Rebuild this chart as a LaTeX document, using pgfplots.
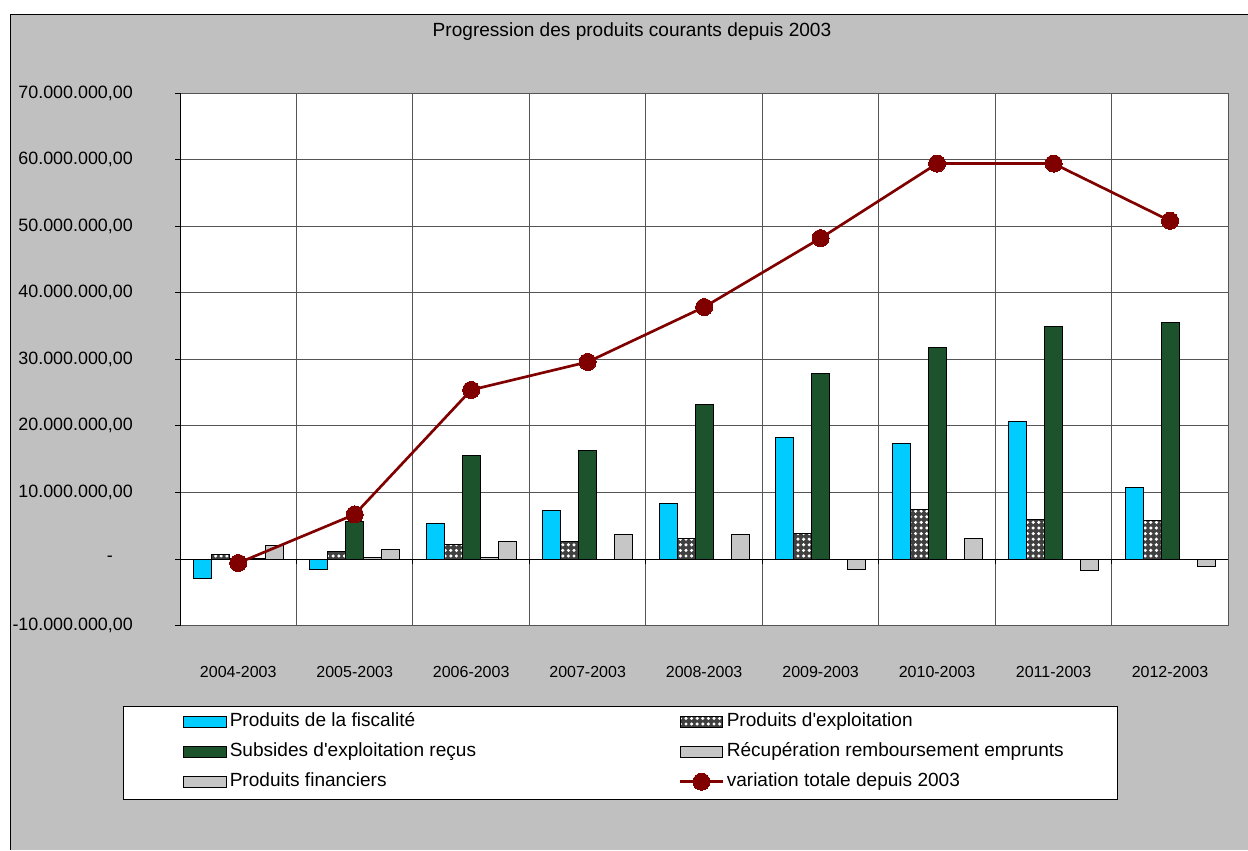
\documentclass[border=0pt]{standalone}
\usepackage{fontspec}
\setmainfont{Liberation Sans}
\usepackage{pgfplots}
\pgfplotsset{compat=1.18}
\usetikzlibrary{patterns}
\definecolor{bgGray}{RGB}{192,192,192}
\definecolor{fisc}{RGB}{0,204,255}
\definecolor{subs}{RGB}{28,82,44}
\definecolor{marble}{RGB}{198,198,198}
\definecolor{varred}{RGB}{128,0,0}
\definecolor{gridc}{RGB}{85,85,85}
\pgfdeclarepatternformonly{holes}{\pgfpoint{-1pt}{-1pt}}{\pgfpoint{5pt}{5pt}}{\pgfpoint{4.2pt}{4.2pt}}{\pgfpathcircle{\pgfpoint{2.1pt}{2.1pt}}{1.3pt}\pgfusepath{fill}}
\pgfplotsset{
  barleg/.style={legend image code/.code={\draw[##1] (0pt,-4pt) rectangle (32pt,4pt);}},
  lineleg/.style={legend image code/.code={\draw[##1, mark repeat=2, mark phase=2] plot coordinates {(0pt,0pt) (16pt,0pt) (32pt,0pt)};}},
}

\begin{document}
\begin{tikzpicture}[font=\fontsize{14.3}{17}\selectfont]
\path[use as bounding box] (0pt,0pt) rectangle (936pt,637.5pt);
\fill[bgGray] (7.5pt,0pt) rectangle (936pt,626.25pt);
\draw[black, line width=0.75pt] (7.5pt,0pt) -- (7.5pt,626.25pt) -- (936pt,626.25pt);
\draw[fill=white, draw=black, line width=0.75pt] (92.25pt,38.25pt) rectangle (837.75pt,108pt);
\node at (474pt,613.5pt) {Progression des produits courants depuis 2003};
\begin{axis}[
  at={(135pt,168.3pt)}, anchor=south west,
  scale only axis, width=786.2pt, height=399.45pt,
  xmin=-0.5, xmax=8.5, ymin=-10000000, ymax=70000000,
  axis background/.style={fill=white},
  axis line style={gridc, line width=0.75pt},
  xtick={0,...,8},
  xticklabels={2004-2003,2005-2003,2006-2003,2007-2003,2008-2003,2009-2003,2010-2003,2011-2003,2012-2003},
  xtick style={draw=none},
  minor xtick={-0.5,0.5,...,8.5},
  minor tick length=0pt,
  xminorgrids=true,
  ytick pos=left,
  ytick={-10000000,0,10000000,20000000,30000000,40000000,50000000,60000000,70000000},
  yticklabels={{\mbox{-10.000.000,00}},{\mbox{-\hphantom{00}}},{\mbox{10.000.000,00}},{\mbox{20.000.000,00}},{\mbox{30.000.000,00}},{\mbox{40.000.000,00}},{\mbox{50.000.000,00}},{\mbox{60.000.000,00}},{\mbox{70.000.000,00}}},
  ymajorgrids=true,
  major grid style={gridc, line width=0.75pt},
  minor grid style={gridc, line width=0.75pt},
  tick align=outside, major tick length=3.75pt,
  ytick style={black, line width=0.75pt},
  yticklabel style={inner sep=0pt, anchor=east, xshift=-31.5pt, font=\fontsize{13.4}{16}\selectfont},
  xticklabel style={inner sep=0pt, anchor=north, yshift=-26.5pt, font=\fontsize{12}{14}\selectfont},
  scaled y ticks=false,
  legend columns=2,
  legend cell align=left,
  legend style={at={(axis description cs:0.003,-0.158)}, anchor=north west, draw=none, fill=none, inner sep=0pt, row sep=5pt, nodes={inner sep=2pt, text height=10.5pt, text depth=3pt}, /tikz/every even column/.append style={column sep=150pt}},
]
\draw[black, line width=0.75pt] (axis cs:-0.5,0) -- (axis cs:8.5,0);
\pgfplotsinvokeforeach{0.5,1.5,2.5,3.5,4.5,5.5,6.5,7.5}{\draw[black, line width=0.75pt] (axis cs:#1,0) -- ++(0pt,-3.5pt);}
\draw[black, line width=0.75pt] (rel axis cs:0,0) -- (rel axis cs:0,1);

\addplot[ybar, bar width=13.5pt, bar shift=-27pt, fill=fisc, draw=black, line width=0.75pt, barleg]
  coordinates {(0,-2900000) (1,-1500000) (2,5300000) (3,7250000) (4,8300000) (5,18300000) (6,17300000) (7,20600000) (8,10800000)};
\addplot[ybar, bar width=13.5pt, bar shift=-13.5pt, fill=black!75, draw=black, line width=0.75pt,
  postaction={pattern=holes, pattern color=white}, barleg]
  coordinates {(0,650000) (1,1200000) (2,2200000) (3,2650000) (4,3100000) (5,3800000) (6,7450000) (7,5950000) (8,5750000)};
\addplot[ybar, bar width=13.5pt, bar shift=0pt, fill=subs, draw=black, line width=0.75pt, barleg]
  coordinates {(0,100000) (1,5700000) (2,15500000) (3,16300000) (4,23200000) (5,27900000) (6,31800000) (7,34950000) (8,35550000)};
\addplot[ybar, bar width=13.5pt, bar shift=13.5pt, fill=marble, draw=black, line width=0.75pt, barleg]
  coordinates {(0,100000) (1,300000) (2,300000) (3,0) (4,0) (5,0) (6,0) (7,0) (8,0)};
\addplot[ybar, bar width=13.5pt, bar shift=27pt, fill=marble, draw=black, line width=0.75pt, barleg]
  coordinates {(0,2100000) (1,1500000) (2,2650000) (3,3750000) (4,3750000) (5,-1500000) (6,3100000) (7,-1750000) (8,-1100000)};
\addplot[sharp plot, color=varred, line width=2pt, mark=*, mark size=6.4pt,
  mark options={fill=varred, draw=varred, line width=0pt}, lineleg]
  coordinates {(0,-600000) (1,6700000) (2,25400000) (3,29600000) (4,37850000) (5,48200000) (6,59400000) (7,59400000) (8,50800000)};
\legend{Produits de la fiscalité, Produits d\textquotesingle exploitation, Subsides d\textquotesingle exploitation reçus, Récupération remboursement emprunts, Produits financiers, variation totale depuis 2003}
\end{axis}
\end{tikzpicture}
\end{document}
